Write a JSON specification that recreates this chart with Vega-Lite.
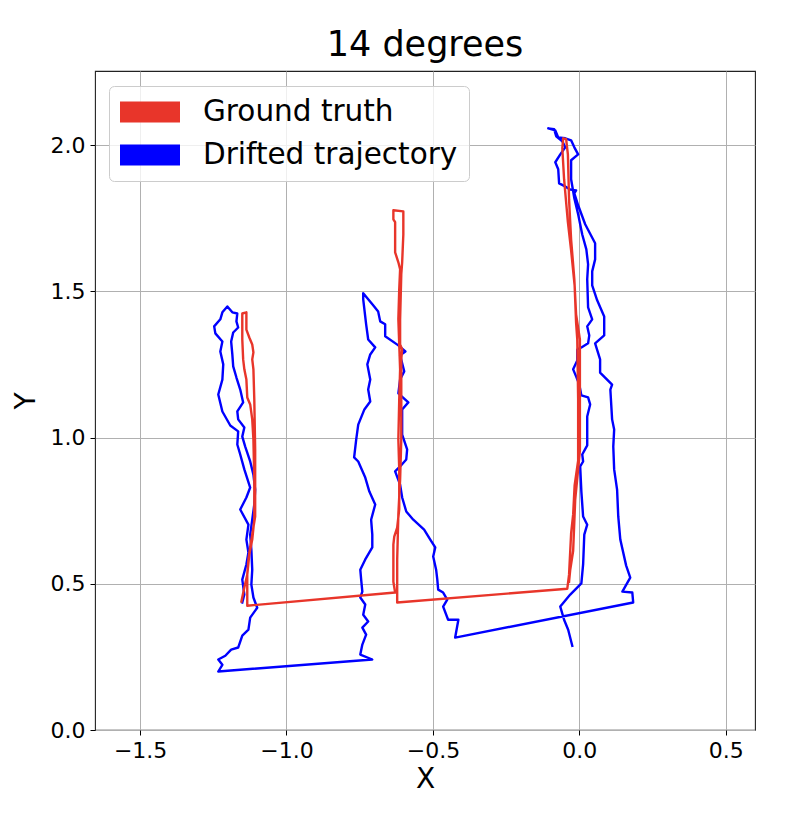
{
"$schema": "https://vega.github.io/schema/vega-lite/v6.json",
"autosize": {"type": "none"},
"width": 660,
"height": 659,
"padding": {"left": 95, "top": 71, "right": 43, "bottom": 90},
"background": "#ffffff",
"title": {"text": "14 degrees", "font": "DejaVu Sans", "fontSize": 35, "fontWeight": "normal", "color": "#000000", "offset": 8, "anchor": "middle"},
"datasets": {
"truth": [
{"i":1,"x":-1.154,"y":0.439},{"i":2,"x":-1.144,"y":0.487},{"i":3,"x":-1.134,"y":0.531},{"i":4,"x":-1.127,"y":0.600},{"i":5,"x":-1.117,"y":0.651},{"i":6,"x":-1.110,"y":0.719},{"i":7,"x":-1.110,"y":0.856},{"i":8,"x":-1.113,"y":0.993},{"i":9,"x":-1.117,"y":1.062},{"i":10,"x":-1.124,"y":1.113},{"i":11,"x":-1.134,"y":1.137},{"i":12,"x":-1.137,"y":1.198},{"i":13,"x":-1.144,"y":1.233},{"i":14,"x":-1.148,"y":1.267},{"i":15,"x":-1.151,"y":1.335},{"i":16,"x":-1.151,"y":1.404},{"i":17,"x":-1.151,"y":1.424},{"i":18,"x":-1.137,"y":1.428},{"i":19,"x":-1.137,"y":1.369},{"i":20,"x":-1.127,"y":1.342},{"i":21,"x":-1.117,"y":1.318},{"i":22,"x":-1.113,"y":1.291},{"i":23,"x":-1.117,"y":1.267},{"i":24,"x":-1.113,"y":1.233},{"i":25,"x":-1.110,"y":1.130},{"i":26,"x":-1.107,"y":0.959},{"i":27,"x":-1.107,"y":0.730},{"i":28,"x":-1.117,"y":0.668},{"i":29,"x":-1.124,"y":0.627},{"i":30,"x":-1.130,"y":0.583},{"i":31,"x":-1.134,"y":0.531},{"i":32,"x":-1.134,"y":0.425},
{"i":33,"x":-0.629,"y":0.470},{"i":34,"x":-0.635,"y":0.507},{"i":35,"x":-0.635,"y":0.634},{"i":36,"x":-0.632,"y":0.661},{"i":37,"x":-0.622,"y":0.692},{"i":38,"x":-0.615,"y":0.754},{"i":39,"x":-0.615,"y":0.891},{"i":40,"x":-0.618,"y":0.993},{"i":41,"x":-0.615,"y":1.130},{"i":42,"x":-0.612,"y":1.233},{"i":43,"x":-0.615,"y":1.318},{"i":44,"x":-0.618,"y":1.404},{"i":45,"x":-0.615,"y":1.506},{"i":46,"x":-0.612,"y":1.575},{"i":47,"x":-0.618,"y":1.599},{"i":48,"x":-0.629,"y":1.633},{"i":49,"x":-0.629,"y":1.736},{"i":50,"x":-0.635,"y":1.746},{"i":51,"x":-0.635,"y":1.777},{"i":52,"x":-0.601,"y":1.773},{"i":53,"x":-0.601,"y":1.694},{"i":54,"x":-0.605,"y":1.599},{"i":55,"x":-0.608,"y":1.558},{"i":56,"x":-0.612,"y":1.404},{"i":57,"x":-0.612,"y":1.318},{"i":58,"x":-0.605,"y":1.301},{"i":59,"x":-0.608,"y":1.267},{"i":60,"x":-0.608,"y":1.130},{"i":61,"x":-0.608,"y":0.993},{"i":62,"x":-0.612,"y":0.856},{"i":63,"x":-0.618,"y":0.737},{"i":64,"x":-0.622,"y":0.583},{"i":65,"x":-0.622,"y":0.436},
{"i":66,"x":-0.041,"y":0.483},{"i":67,"x":-0.035,"y":0.531},{"i":68,"x":-0.028,"y":0.672},{"i":69,"x":-0.021,"y":0.737},{"i":70,"x":-0.016,"y":0.836},{"i":71,"x":-0.004,"y":0.921},{"i":72,"x":-0.004,"y":1.130},{"i":73,"x":-0.007,"y":1.335},{"i":74,"x":-0.011,"y":1.393},{"i":75,"x":-0.016,"y":1.520},{"i":76,"x":-0.028,"y":1.640},{"i":77,"x":-0.039,"y":1.736},{"i":78,"x":-0.052,"y":1.883},{"i":79,"x":-0.058,"y":1.989},{"i":80,"x":-0.055,"y":2.023},{"i":81,"x":-0.045,"y":2.020},{"i":82,"x":-0.039,"y":1.968},{"i":83,"x":-0.035,"y":1.814},{"i":84,"x":-0.028,"y":1.677},{"i":85,"x":-0.017,"y":1.541},{"i":86,"x":-0.011,"y":1.421},{"i":87,"x":0.002,"y":1.335},{"i":88,"x":0.002,"y":0.956},{"i":89,"x":-0.004,"y":0.891},{"i":90,"x":-0.014,"y":0.788},{"i":91,"x":-0.021,"y":0.613},{"i":92,"x":-0.031,"y":0.548},{"i":93,"x":-0.035,"y":0.507}
],
"drift": [
{"i":1,"x":-1.151,"y":0.436},{"i":2,"x":-1.144,"y":0.463},{"i":3,"x":-1.151,"y":0.514},{"i":4,"x":-1.137,"y":0.566},{"i":5,"x":-1.130,"y":0.607},{"i":6,"x":-1.137,"y":0.651},{"i":7,"x":-1.130,"y":0.702},{"i":8,"x":-1.158,"y":0.754},{"i":9,"x":-1.137,"y":0.795},{"i":10,"x":-1.124,"y":0.829},{"i":11,"x":-1.144,"y":0.891},{"i":12,"x":-1.158,"y":0.942},{"i":13,"x":-1.168,"y":0.976},{"i":14,"x":-1.165,"y":1.021},{"i":15,"x":-1.192,"y":1.041},{"i":16,"x":-1.219,"y":1.089},{"i":17,"x":-1.233,"y":1.147},{"i":18,"x":-1.219,"y":1.198},{"i":19,"x":-1.216,"y":1.250},{"i":20,"x":-1.226,"y":1.294},{"i":21,"x":-1.219,"y":1.328},{"i":22,"x":-1.243,"y":1.356},{"i":23,"x":-1.247,"y":1.380},{"i":24,"x":-1.226,"y":1.404},{"i":25,"x":-1.219,"y":1.428},{"i":26,"x":-1.202,"y":1.448},{"i":27,"x":-1.185,"y":1.428},{"i":28,"x":-1.168,"y":1.424},{"i":29,"x":-1.171,"y":1.397},{"i":30,"x":-1.165,"y":1.376},{"i":31,"x":-1.182,"y":1.359},{"i":32,"x":-1.189,"y":1.328},{"i":33,"x":-1.185,"y":1.284},{"i":34,"x":-1.182,"y":1.243},{"i":35,"x":-1.171,"y":1.205},{"i":36,"x":-1.158,"y":1.164},{"i":37,"x":-1.148,"y":1.120},{"i":38,"x":-1.168,"y":1.089},{"i":39,"x":-1.165,"y":1.062},{"i":40,"x":-1.144,"y":1.034},{"i":41,"x":-1.151,"y":1.003},{"i":42,"x":-1.141,"y":0.969},{"i":43,"x":-1.124,"y":0.918},{"i":44,"x":-1.113,"y":0.873},{"i":45,"x":-1.107,"y":0.822},{"i":46,"x":-1.110,"y":0.771},{"i":47,"x":-1.117,"y":0.719},{"i":48,"x":-1.124,"y":0.668},{"i":49,"x":-1.120,"y":0.617},{"i":50,"x":-1.117,"y":0.548},{"i":51,"x":-1.120,"y":0.497},{"i":52,"x":-1.113,"y":0.453},{"i":53,"x":-1.100,"y":0.418},{"i":54,"x":-1.124,"y":0.384},{"i":55,"x":-1.130,"y":0.343},{"i":56,"x":-1.151,"y":0.323},{"i":57,"x":-1.165,"y":0.282},{"i":58,"x":-1.189,"y":0.275},{"i":59,"x":-1.209,"y":0.254},{"i":60,"x":-1.233,"y":0.241},{"i":61,"x":-1.219,"y":0.223},{"i":62,"x":-1.233,"y":0.200},
{"i":63,"x":-0.707,"y":0.241},{"i":64,"x":-0.748,"y":0.258},{"i":65,"x":-0.741,"y":0.292},{"i":66,"x":-0.728,"y":0.326},{"i":67,"x":-0.741,"y":0.350},{"i":68,"x":-0.721,"y":0.371},{"i":69,"x":-0.738,"y":0.394},{"i":70,"x":-0.731,"y":0.429},{"i":71,"x":-0.748,"y":0.453},{"i":72,"x":-0.741,"y":0.473},{"i":73,"x":-0.745,"y":0.514},{"i":74,"x":-0.748,"y":0.548},{"i":75,"x":-0.731,"y":0.583},{"i":76,"x":-0.707,"y":0.624},{"i":77,"x":-0.707,"y":0.668},{"i":78,"x":-0.711,"y":0.719},{"i":79,"x":-0.697,"y":0.771},{"i":80,"x":-0.717,"y":0.815},{"i":81,"x":-0.731,"y":0.863},{"i":82,"x":-0.755,"y":0.918},{"i":83,"x":-0.769,"y":0.932},{"i":84,"x":-0.762,"y":0.993},{"i":85,"x":-0.755,"y":1.044},{"i":86,"x":-0.734,"y":1.096},{"i":87,"x":-0.714,"y":1.123},{"i":88,"x":-0.721,"y":1.164},{"i":89,"x":-0.714,"y":1.198},{"i":90,"x":-0.724,"y":1.250},{"i":91,"x":-0.714,"y":1.284},{"i":92,"x":-0.697,"y":1.308},{"i":93,"x":-0.721,"y":1.335},{"i":94,"x":-0.728,"y":1.387},{"i":95,"x":-0.734,"y":1.438},{"i":96,"x":-0.738,"y":1.472},{"i":97,"x":-0.738,"y":1.493},{"i":98,"x":-0.704,"y":1.452},{"i":99,"x":-0.687,"y":1.431},{"i":100,"x":-0.680,"y":1.397},{"i":101,"x":-0.663,"y":1.387},{"i":102,"x":-0.663,"y":1.346},{"i":103,"x":-0.618,"y":1.315},{"i":104,"x":-0.594,"y":1.294},{"i":105,"x":-0.612,"y":1.281},{"i":106,"x":-0.598,"y":1.226},{"i":107,"x":-0.612,"y":1.198},{"i":108,"x":-0.618,"y":1.151},{"i":109,"x":-0.584,"y":1.120},{"i":110,"x":-0.605,"y":1.096},{"i":111,"x":-0.605,"y":1.010},{"i":112,"x":-0.588,"y":0.959},{"i":113,"x":-0.591,"y":0.925},{"i":114,"x":-0.612,"y":0.901},{"i":115,"x":-0.629,"y":0.884},{"i":116,"x":-0.612,"y":0.839},{"i":117,"x":-0.605,"y":0.795},{"i":118,"x":-0.591,"y":0.747},{"i":119,"x":-0.567,"y":0.719},{"i":120,"x":-0.530,"y":0.685},{"i":121,"x":-0.509,"y":0.651},{"i":122,"x":-0.492,"y":0.624},{"i":123,"x":-0.499,"y":0.593},{"i":124,"x":-0.489,"y":0.548},{"i":125,"x":-0.485,"y":0.514},{"i":126,"x":-0.482,"y":0.480},{"i":127,"x":-0.465,"y":0.470},{"i":128,"x":-0.451,"y":0.446},{"i":129,"x":-0.465,"y":0.422},{"i":130,"x":-0.448,"y":0.377},{"i":131,"x":-0.413,"y":0.377},{"i":132,"x":-0.424,"y":0.316},
{"i":133,"x":0.184,"y":0.436},{"i":134,"x":0.181,"y":0.470},{"i":135,"x":0.147,"y":0.473},{"i":136,"x":0.174,"y":0.521},{"i":137,"x":0.160,"y":0.562},{"i":138,"x":0.140,"y":0.651},{"i":139,"x":0.133,"y":0.730},{"i":140,"x":0.129,"y":0.822},{"i":141,"x":0.119,"y":0.891},{"i":142,"x":0.116,"y":0.969},{"i":143,"x":0.119,"y":1.027},{"i":144,"x":0.112,"y":1.062},{"i":145,"x":0.106,"y":1.164},{"i":146,"x":0.112,"y":1.181},{"i":147,"x":0.071,"y":1.222},{"i":148,"x":0.071,"y":1.267},{"i":149,"x":0.054,"y":1.322},{"i":150,"x":0.085,"y":1.349},{"i":151,"x":0.085,"y":1.414},{"i":152,"x":0.061,"y":1.469},{"i":153,"x":0.044,"y":1.520},{"i":154,"x":0.044,"y":1.568},{"i":155,"x":0.054,"y":1.609},{"i":156,"x":0.054,"y":1.664},{"i":157,"x":0.020,"y":1.729},{"i":158,"x":-0.004,"y":1.794},{"i":159,"x":-0.017,"y":1.835},{"i":160,"x":-0.011,"y":1.845},{"i":161,"x":-0.031,"y":1.848},{"i":162,"x":-0.055,"y":1.862},{"i":163,"x":-0.069,"y":1.869},{"i":164,"x":-0.072,"y":1.917},{"i":165,"x":-0.082,"y":1.941},{"i":166,"x":-0.065,"y":1.968},{"i":167,"x":-0.048,"y":1.992},{"i":168,"x":-0.058,"y":2.013},{"i":169,"x":-0.079,"y":2.030},{"i":170,"x":-0.086,"y":2.054},{"i":171,"x":-0.106,"y":2.057},{"i":172,"x":-0.082,"y":2.050},{"i":173,"x":-0.072,"y":2.026},{"i":174,"x":-0.048,"y":2.023},{"i":175,"x":-0.028,"y":2.016},{"i":176,"x":-0.017,"y":1.992},{"i":177,"x":-0.004,"y":1.968},{"i":178,"x":-0.028,"y":1.948},{"i":179,"x":-0.028,"y":1.883},{"i":180,"x":-0.017,"y":1.818},{"i":181,"x":-0.004,"y":1.763},{"i":182,"x":0.010,"y":1.694},{"i":183,"x":0.024,"y":1.643},{"i":184,"x":0.030,"y":1.592},{"i":185,"x":0.027,"y":1.541},{"i":186,"x":0.030,"y":1.445},{"i":187,"x":0.044,"y":1.404},{"i":188,"x":0.027,"y":1.380},{"i":189,"x":0.034,"y":1.349},{"i":190,"x":0.030,"y":1.322},{"i":191,"x":0.007,"y":1.308},{"i":192,"x":-0.007,"y":1.301},{"i":193,"x":-0.007,"y":1.263},{"i":194,"x":-0.021,"y":1.233},{"i":195,"x":-0.011,"y":1.209},{"i":196,"x":0.000,"y":1.181},{"i":197,"x":0.007,"y":1.144},{"i":198,"x":0.030,"y":1.137},{"i":199,"x":0.037,"y":1.113},{"i":200,"x":0.027,"y":1.072},{"i":201,"x":0.027,"y":0.973},{"i":202,"x":0.010,"y":0.942},{"i":203,"x":0.013,"y":0.918},{"i":204,"x":0.003,"y":0.901},{"i":205,"x":0.007,"y":0.815},{"i":206,"x":0.013,"y":0.730},{"i":207,"x":0.027,"y":0.702},{"i":208,"x":0.017,"y":0.668},{"i":209,"x":0.013,"y":0.566},{"i":210,"x":0.007,"y":0.501},{"i":211,"x":-0.031,"y":0.463},{"i":212,"x":-0.065,"y":0.422},{"i":213,"x":-0.052,"y":0.377},{"i":214,"x":-0.038,"y":0.343},{"i":215,"x":-0.024,"y":0.288}
]
},
"encoding": {
"x": {"field": "x", "type": "quantitative", "title": "X", "scale": {"domain": [-1.654, 0.6], "nice": false, "zero": false}, "axis": {"values": [-1.5, -1, -0.5, 0, 0.5], "format": ".1f", "titlePadding": 4}},
"y": {"field": "y", "type": "quantitative", "title": "Y", "scale": {"domain": [0, 2.253], "nice": false, "zero": false}, "axis": {"values": [0, 0.5, 1, 1.5, 2], "format": ".1f", "titlePadding": 10}},
"order": {"field": "i", "type": "quantitative"}
},
"layer": [
{"data": {"name": "drift"}, "mark": {"type": "line", "strokeWidth": 2.4, "strokeJoin": "round", "strokeCap": "square"},
 "encoding": {"color": {"datum": "Drifted trajectory", "type": "nominal", "scale": {"domain": ["Ground truth", "Drifted trajectory"], "range": ["#e8352a", "#0000ff"]},
  "legend": {"orient": "none", "legendX": 14, "legendY": 15, "title": null, "symbolType": "M-2,-0.7H2V0.7H-2Z", "symbolSize": 900, "symbolOffset": 15, "symbolStrokeWidth": 0, "labelOffset": 38, "labelFontSize": 29.5, "labelLimit": 500, "labelFont": "DejaVu Sans", "labelColor": "#000000", "padding": 11, "rowPadding": 13, "strokeColor": "#cccccc", "fillColor": "rgba(255,255,255,0.8)", "cornerRadius": 5,
   "encode": {"symbols": {"update": {"fill": {"scale": "color", "field": "value"}, "stroke": {"value": "transparent"}, "opacity": {"value": 1}}}}}}}},
{"data": {"name": "truth"}, "mark": {"type": "line", "strokeWidth": 2.4, "strokeJoin": "round", "strokeCap": "square"},
 "encoding": {"color": {"datum": "Ground truth", "type": "nominal"}}}
],
"config": {
"view": {"stroke": "#222222", "strokeWidth": 1.1},
"axis": {"labelFont": "DejaVu Sans", "labelFontSize": 22, "labelColor": "#000000", "titleFont": "DejaVu Sans", "titleFontSize": 28, "titleFontWeight": "normal", "titleColor": "#000000", "tickColor": "#000000", "tickSize": 5, "tickWidth": 1, "gridColor": "#b0b0b0", "gridWidth": 1, "domain": false, "labelPadding": 5}
}
}
